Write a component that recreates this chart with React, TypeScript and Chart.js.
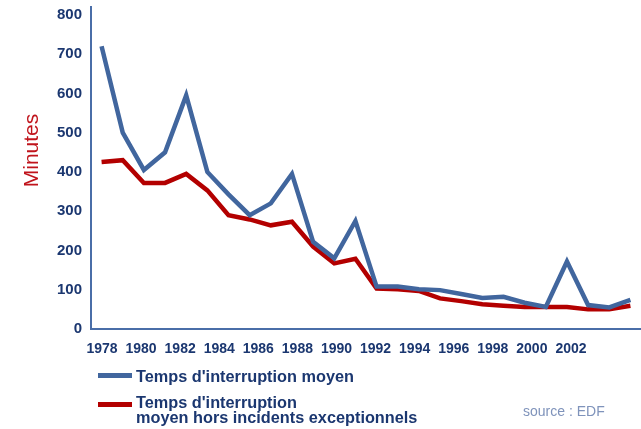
import React, { useEffect, useRef } from 'react';
import { Chart, registerables } from 'chart.js';

Chart.register(...registerables);

const years = [
  '1978', '1979', '1980', '1981', '1982', '1983', '1984', '1985', '1986', '1987',
  '1988', '1989', '1990', '1991', '1992', '1993', '1994', '1995', '1996', '1997',
  '1998', '1999', '2000', '2001', '2002', '2003',
];
const tempsMoyen = [720, 500, 405, 450, 595, 400, 343, 290, 320, 395, 222, 180, 275, 108, 108, 101, 99, 89, 79, 82, 67, 56, 172, 61, 55, 74];
const tempsHorsIncidents = [425, 430, 372, 372, 395, 353, 290, 279, 264, 273, 210, 167, 179, 103, 101, 97, 78, 71, 63, 59, 56, 56, 56, 50, 50, 59];
const yTicks = [0, 100, 200, 300, 400, 500, 600, 700, 800];
const xTickYears = [1978, 1980, 1982, 1984, 1986, 1988, 1990, 1992, 1994, 1996, 1998, 2000, 2002];
const yTitle = 'Minutes';

const FONT = '"Liberation Sans", Arial, sans-serif';
const NAVY = '#1b3770';
const BLUE = '#41669e';
const RED = '#b30000';
const TITLE_RED = '#c0141c';
const AXIS = '#4a6ea8';

const yTitlePlugin = {
  id: 'yTitlePlugin',
  afterDraw(chart: any) {
    const ctx = chart.ctx;
    const area = chart.chartArea;
    ctx.save();
    ctx.font = `21px ${FONT}`;
    ctx.fillStyle = TITLE_RED;
    ctx.textAlign = 'center';
    ctx.textBaseline = 'alphabetic';
    ctx.translate(area.left - 53, area.top + 143.5);
    ctx.rotate(-Math.PI / 2);
    ctx.fillText(yTitle, 0, 0);
    ctx.restore();
  },
};

export default function App() {
  const ref = useRef<HTMLCanvasElement | null>(null);

  useEffect(() => {
    document.body.style.margin = '0';
    const canvas = ref.current;
    if (!canvas) return;
    const chart = new Chart(canvas, {
      type: 'line',
      data: {
        labels: years,
        datasets: [
          {
            label: "Temps d'interruption moyen",
            data: tempsMoyen,
            borderColor: BLUE,
            backgroundColor: BLUE,
            borderWidth: 4.5,
            pointRadius: 0,
            tension: 0,
            xAxisID: 'x',
            yAxisID: 'y',
          },
          {
            label: "Temps d'interruption moyen hors incidents exceptionnels",
            data: tempsHorsIncidents,
            borderColor: RED,
            backgroundColor: RED,
            borderWidth: 4.5,
            pointRadius: 0,
            tension: 0,
            xAxisID: 'x',
            yAxisID: 'y',
          },
        ],
      },
      options: {
        responsive: false,
        animation: false,
        layout: { padding: { top: 7, right: 0, bottom: 76, left: 0 } },
        plugins: { legend: { display: false }, tooltip: { enabled: false } },
        scales: {
          x: {
            type: 'category',
            display: false,
            offset: true,
          },
          xl: {
            type: 'linear',
            position: 'bottom',
            min: 1977.437,
            max: 2005.585,
            afterBuildTicks: (s: any) => {
              s.ticks = xTickYears.map((v) => ({ value: v }));
            },
            afterFit: (s: any) => {
              s.height = 24;
              s.paddingLeft = 0;
              s.paddingRight = 0;
            },
            ticks: {
              autoSkip: false,
              maxRotation: 0,
              padding: 12,
              color: NAVY,
              font: { family: FONT, size: 14, weight: 'bold' },
              callback: (v: any) => String(v),
            },
            grid: { display: false, drawTicks: false },
            border: { display: true, color: AXIS, width: 2 },
          },
          y: {
            type: 'linear',
            min: 0,
            max: 820,
            afterBuildTicks: (s: any) => {
              s.ticks = yTicks.map((v) => ({ value: v }));
            },
            afterFit: (s: any) => {
              s.width = 91;
              s.paddingTop = 0;
              s.paddingBottom = 0;
            },
            ticks: {
              padding: 9,
              color: NAVY,
              font: { family: FONT, size: 15, weight: 'bold' },
            },
            grid: { display: false, drawTicks: false },
            border: { display: true, color: AXIS, width: 2 },
          },
        },
      },
      plugins: [yTitlePlugin],
    } as any);
    return () => chart.destroy();
  }, []);

  const textStyle: React.CSSProperties = {
    position: 'absolute',
    fontFamily: FONT,
    fontWeight: 'bold',
    fontSize: 16.3,
    color: NAVY,
    whiteSpace: 'nowrap',
  };

  return (
    <div style={{ position: 'relative', width: 641, height: 429 }}>
      <canvas ref={ref} width={641} height={429} style={{ display: 'block', width: 641, height: 429 }} />
      <div style={{ position: 'absolute', left: 98, top: 373, width: 34, height: 5, background: BLUE }} />
      <div style={{ ...textStyle, left: 136, top: 367.3, lineHeight: '18px' }}>Temps d'interruption moyen</div>
      <div style={{ position: 'absolute', left: 98, top: 402, width: 34, height: 5, background: RED }} />
      <div style={{ ...textStyle, left: 136, top: 395.3, lineHeight: '14.5px' }}>
        Temps d'interruption
        <br />
        moyen hors incidents exceptionnels
      </div>
      <div
        style={{
          position: 'absolute',
          left: 523,
          top: 403,
          fontFamily: FONT,
          fontSize: 14,
          lineHeight: '16px',
          color: '#7f93bb',
          whiteSpace: 'nowrap',
        }}
      >
        source : EDF
      </div>
    </div>
  );
}
